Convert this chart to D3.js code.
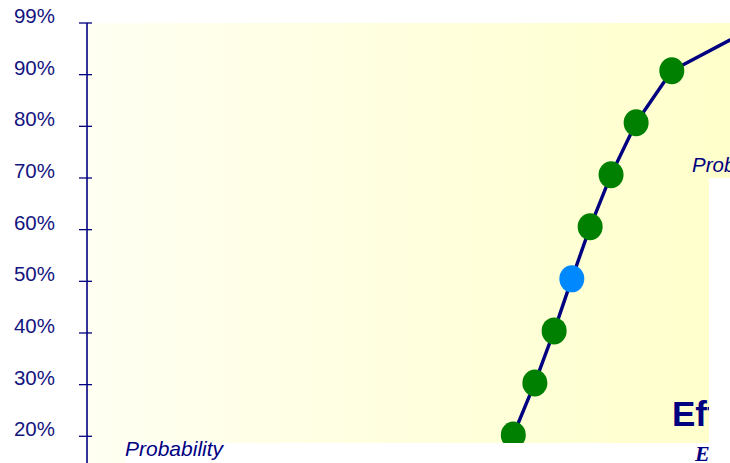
<!DOCTYPE html>
<html>
<head>
<meta charset="utf-8">
<script src="https://cdn.jsdelivr.net/npm/d3@7/dist/d3.min.js"></script>
<style>
  html, body { margin: 0; padding: 0; background: #ffffff; overflow: hidden; }
  svg { display: block; font-family: "Liberation Sans", Arial, sans-serif; }
</style>
</head>
<body>
<svg id="chart" width="730" height="463"></svg>
<script>
// Cumulative probability of finishing within a given effort
const tickLabels = ["20%", "30%", "40%", "50%", "60%", "70%", "80%", "90%", "99%"];
const probability = [20, 30, 40, 50, 60, 70, 80, 90, 99];
const effort = [132.6, 139.3, 145.3, 150.8, 156.5, 163.0, 170.8, 181.9, 209.5];
const medianLevel = 50;

const navy = "#000080";
const svg = d3.select("#chart");

// Evenly spaced probability labels on the vertical axis
const yAxisScale = d3.scalePoint().domain(tickLabels).range([436.3, 23]);
// Position of the curve's points
const y = d3.scaleLinear().domain([20, 90]).range([435, 70.7]);
const x = d3.scaleLinear().domain([0, 200]).range([87, 730]);

// Plot background with a soft horizontal gradient
const defs = svg.append("defs");
const grad = defs.append("linearGradient").attr("id", "bg")
  .attr("x1", "0").attr("x2", "1").attr("y1", "0").attr("y2", "0");
grad.append("stop").attr("offset", "0%").attr("stop-color", "#fffff2");
grad.append("stop").attr("offset", "100%").attr("stop-color", "#ffffcb");
svg.append("rect")
  .attr("x", x(0)).attr("y", yAxisScale("99%"))
  .attr("width", 730 - x(0)).attr("height", 463 - yAxisScale("99%"))
  .attr("fill", "url(#bg)");

// S-curve
const pts = effort.map((e, i) => ({ e, p: probability[i] }));
svg.append("path")
  .datum(pts)
  .attr("fill", "none")
  .attr("stroke", navy)
  .attr("stroke-width", 3.4)
  .attr("stroke-linejoin", "round")
  .attr("d", d3.line().x(d => x(d.e)).y(d => y(d.p)));

svg.append("g").selectAll("ellipse")
  .data(pts)
  .join("ellipse")
  .attr("cx", d => x(d.e))
  .attr("cy", d => y(d.p))
  .attr("rx", 12.5)
  .attr("ry", 13.5)
  .attr("fill", d => d.p === medianLevel ? "#0088ff" : "#008000");

// Lower strip below the plot area
svg.append("rect")
  .attr("x", 125).attr("y", 443).attr("width", 605).attr("height", 20)
  .attr("fill", "#ffffff");

// Vertical axis
const axis = svg.append("g").attr("transform", `translate(${x(0)},0)`);
axis.append("line")
  .attr("x1", 0).attr("x2", 0)
  .attr("y1", yAxisScale("99%")).attr("y2", 463)
  .attr("stroke", navy).attr("stroke-width", 1.6);
const ticks = axis.selectAll("g.tick")
  .data(tickLabels)
  .join("g")
  .attr("class", "tick")
  .attr("transform", d => `translate(0,${yAxisScale(d)})`);
ticks.append("line")
  .attr("x1", -8).attr("x2", 5)
  .attr("stroke", navy).attr("stroke-width", 1.3);
ticks.append("text")
  .attr("x", -32).attr("y", 0).attr("dy", "0.0em")
  .attr("text-anchor", "end")
  .attr("font-size", 20.5)
  .attr("fill", "#14147f")
  .text(d => d);

// Axis captions
svg.append("text")
  .attr("x", 125).attr("y", 456)
  .attr("font-size", 21).attr("font-style", "italic")
  .attr("fill", navy)
  .text("Probability");

svg.append("text")
  .attr("x", 672).attr("y", 426)
  .attr("font-size", 35).attr("font-weight", "bold")
  .attr("fill", navy)
  .text("Effort");

svg.append("text")
  .attr("x", 695).attr("y", 461)
  .attr("font-family", "Liberation Serif, serif")
  .attr("font-size", 22).attr("font-weight", "bold").attr("font-style", "italic")
  .attr("fill", navy)
  .text("Estimate");

// Right-hand panel edge
svg.append("rect")
  .attr("x", 709).attr("y", 178).attr("width", 21).attr("height", 285)
  .attr("fill", "#ffffff");

svg.append("text")
  .attr("x", 692).attr("y", 172)
  .attr("font-size", 20.5).attr("font-style", "italic")
  .attr("fill", navy)
  .text("Probability");
</script>
</body>
</html>
